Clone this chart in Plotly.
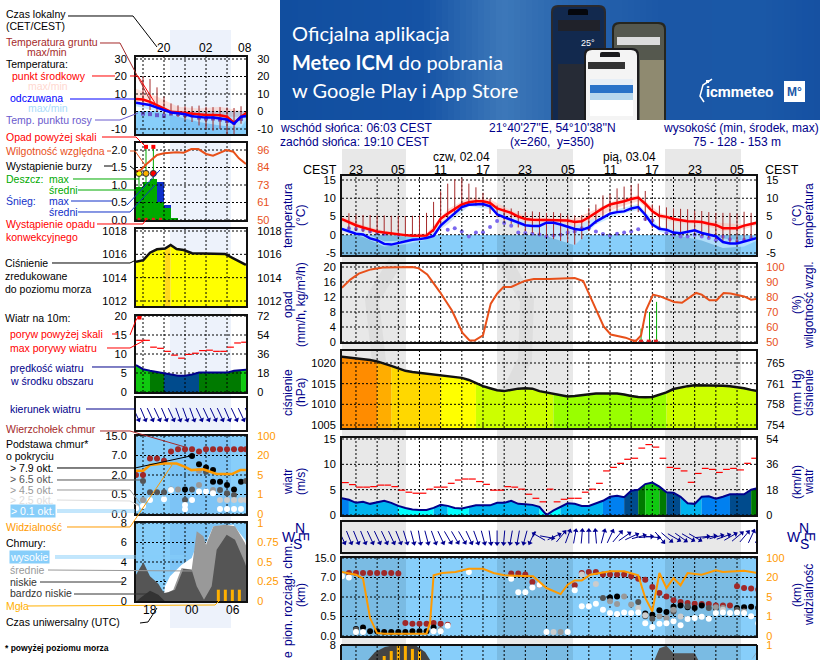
import math

import plotly.graph_objects as go

W, H = 820, 660
BLACK = "#000000"
NAVY = "#00008b"
RED = "#ff0000"
BROWN = "#a52a2a"
HUMID = "#e8501a"
ORANGE = "#ff9a00"
SKY = "#87cefa"
FONT = "Liberation Sans"

# ---- main meteogram, hours counted from the 23:00 tick
HOURS = list(range(-2, 58))
TEMP_MEAN = [4.3, 3.4, 2.6, 2.0, 1.4, 0.9, 0.6, 0.3, 0.1, -0.1, -0.3, -0.3, -0.2, 1.4, 4.4, 5.8, 7.0, 8.3, 8.9, 9.2,
             9.2, 8.7, 7.2, 6.7, 6.0, 5.0, 4.3, 4.1, 4.1, 4.1, 4.0, 3.9, 3.9, 3.5, 3.7, 4.8, 6.1, 7.3, 8.3, 8.7,
             9.2, 9.8, 10.2, 8.5, 6.4, 5.2, 4.9, 4.3, 3.9, 3.7, 3.6, 3.5, 3.0, 2.7, 1.8, 1.7, 1.8, 2.5, 2.9, 3.4]
TEMP_FEEL = [1.6, 0.9, 0.3, 0.1, -1.0, -1.5, -2.5, -2.7, -2.2, -1.9, -1.4, -1.2, -0.9, -0.3, 2.5, 4.2, 5.8, 7.6, 8.2, 8.4,
             8.4, 7.8, 5.6, 4.8, 4.0, 3.2, 2.6, 2.4, 2.4, 3.3, 3.3, 2.8, 2.2, 1.6, 1.3, 2.0, 3.6, 4.8, 5.8, 6.2,
             6.4, 7.2, 7.6, 5.5, 2.8, 1.6, 1.4, 0.6, 0.4, 0.8, 1.2, 0.5, 0.0, -0.4, -2.0, -2.4, -2.4, -1.9, -1.4, -0.8]
DEW_HOURS = [-1, 0, 1, 2, 3, 4, 6, 13, 14, 15, 16, 17, 18, 19, 20, 21, 22, 23, 24, 25, 26, 27, 28, 29, 30, 31, 32, 33, 34,
             35, 36, 37, 38, 39, 40, 41, 42, 43, 44, 45, 46, 47, 48, 49, 50, 51, 52, 53, 54, 55, 56, 57]
DEW_POINT = [1.8, 1.6, 1.4, 0.9, 0.5, 0.2, 0.0, 1.4, 1.8, 0.9, -0.5, 0.6, 0.7, 2.1, 3.8, 3.2, 2.5, 0.6, 0.5, 0.3, 0.1, -0.5,
             -0.2, 0.0, 0.6, 0.9, 1.8, 1.8, 0.9, 0.2, -0.2, 0.3, 0.6, 0.9, 1.5, 4.3, 3.9, 1.8, 0.5, 0.0, -0.5, -0.5, 0.0,
             -0.5, -0.9, -1.5, -0.5, -1.2, -1.8, -1.4, -0.8, -0.5]
SOIL_HOURS = list(range(-1, 57))
SOIL_MAX = [5.9, 5.5, 5.4, 5.4, 5.3, 5.3, 5.2, 5.2, 5.1, 5.2, 5.3, 6.0, 9.0, 11.9, 14.0, 15.2, 15.5, 14.0, 13.0, 11.5, 10.0,
            8.0, 7.5, 7.2, 6.5, 6.3, 6.4, 6.2, 6.0, 6.2, 5.9, 5.4, 5.3, 5.4, 7.3, 8.3, 10.8, 11.2, 12.7, 13.2, 13.6, 14.0,
            12.0, 8.3, 8.0, 7.5, 7.2, 7.1, 7.0, 6.6, 6.5, 6.2, 6.0, 6.0, 6.0, 5.8, 6.3, 6.0]
SOIL_MIN = [1.5, 1.0, 0.8, 0.5, 0.3, 0.1, -0.2, -0.4, -0.5, -0.6, -0.6, -0.4, 0.8, 2.5, 4.0, 5.5, 7.5, 8.0, 8.0, 7.8, 5.7,
            4.8, 3.8, 3.0, 2.0, 1.0, 0.5, 0.0, -0.5, -1.2, -1.7, -2.0, -2.7, -1.2, 1.0, 3.0, 4.8, 6.0, 6.5, 7.0, 8.0, 6.2,
            3.8, 1.8, 1.5, 1.0, 0.5, 0.0, 0.3, 0.5, -0.3, -0.8, -1.2, -2.0, -2.3, -2.0, -1.5, -1.0]
BAND_HOURS = [-2, 1, 4, 7, 10, 13, 16, 19, 22, 25, 28, 31, 34, 37, 40, 43, 46, 49, 52, 55, 57]
PINK_HIGH = [5.0, 2.6, 1.1, 0.2, 0.4, 7.0, 10.2, 9.7, 6.6, 4.6, 4.6, 4.4, 7.0, 9.6, 10.9, 6.0, 4.3, 3.9, 3.2, 2.8, 3.6]
PINK_LOW = [3.6, 1.4, 0.0, -0.6, -1.0, 2.9, 8.0, 7.4, 4.9, 2.8, 1.5, 0.3, 4.6, 7.4, 9.2, 4.4, 3.2, 2.8, 1.0, 1.5, 2.8]
BLUE_HIGH = [2.0, 0.6, -1.8, -1.6, -0.5, 5.0, 8.8, 8.5, 4.6, 3.2, 3.9, 2.4, 4.6, 7.0, 8.4, 2.2, 1.1, 1.0, -1.0, -1.6, -0.4]
BLUE_LOW = [1.0, -0.6, -3.2, -2.6, -1.4, 3.0, 7.8, 7.0, 3.2, 1.0, -1.0, -2.9, 2.8, 5.4, 6.8, 0.8, -0.4, -1.6, -3.6, -3.2, -1.4]

HUMIDITY_HOURS = [-2, -0.8, 0.4, 2.1, 3.8, 6, 8, 8.9, 10.1, 11.9, 13.6, 15.1, 16.1, 16.8, 18, 19.1, 20, 20.9, 22, 23.9, 25.2,
                  27.4, 31, 32.2, 33.5, 35.1, 36.1, 38.2, 39.6, 40.4, 41.1, 42.1, 43.1, 45.1, 46.2, 48.2, 49, 50.1, 51.1,
                  52.1, 53.1, 55, 56, 57]
HUMIDITY = [86.2, 91.6, 95.6, 98.4, 99.6, 100, 100, 99.1, 95.1, 83.3, 71, 56, 51, 51, 54.4, 75.6, 82.2, 86.7, 86.7, 90.7, 92,
            92, 92.7, 90.7, 76.7, 60.4, 55, 52.9, 50.4, 54.4, 71.1, 81.6, 80.4, 76.7, 76.2, 82.7, 81.6, 77.8, 77.8, 82.7,
            82.4, 80.4, 78.2, 78.9]
RAIN_HOURS = [40.4, 41.6, 42.6]
RAIN_MAX = [3.6, 8.0, 10.7]
PRECIP_FLAG_HOURS = [39.5, 40.4, 41.5, 42.5]
PRESSURE = [1021.5, 1021.3, 1021.2, 1021.0, 1020.7, 1020.4, 1019.9, 1019.3, 1018.7, 1018.1, 1017.8, 1017.6, 1017.4, 1017.2,
            1017.0, 1016.8, 1016.6, 1016.4, 1015.9, 1015.1, 1014.4, 1013.9, 1013.4, 1013.2, 1013.5, 1013.8, 1013.9, 1013.8,
            1013.2, 1012.9, 1012.6, 1012.2, 1011.9, 1012.0, 1012.2, 1012.4, 1012.6, 1012.6, 1012.6, 1012.6, 1012.4, 1012.0,
            1011.8, 1011.7, 1011.8, 1012.3, 1012.9, 1013.7, 1014.1, 1014.4, 1014.6, 1014.6, 1014.6, 1014.6, 1014.5, 1014.4,
            1014.2, 1013.9, 1013.5, 1013.2]
WIND = [3.3, 3.0, 2.4, 2.6, 2.2, 2.5, 2.8, 2.4, 1.8, 1.4, 1.1, 1.0, 1.0, 1.4, 2.0, 1.8, 1.4, 1.3, 1.6, 1.9, 1.9, 1.9, 2.4, 2.4,
        2.8, 2.2, 2.1, 2.0, 1.6, 0.0, 0.9, 1.6, 2.3, 2.2, 1.8, 1.8, 2.3, 2.8, 3.6, 3.8, 3.5, 4.8, 5.0, 6.1, 6.4, 5.6, 4.5,
        4.4, 3.6, 2.3, 2.2, 3.6, 3.7, 3.2, 3.6, 4.1, 4.1, 4.1, 5.0, 5.3]
GUST = [6.4, 6.0, 5.5, 5.5, 5.6, 5.9, 5.9, 5.6, 4.9, 4.5, 4.3, 4.3, 5.1, 5.5, 5.5, 6.25, 6.9, 7.1, 7.1, 6.6, 6.05, 4.9, 4.9,
        5.6, 5.5, 5.1, 4.1, 3.3, 2.6, 5.1, 2.6, 3.1, 3.3, 3.3, 4.5, 5.1, 6.25, 8.7, 9.4, 10.2, 11.0, 11.2, 13.2, 13.9, 13.4,
        11.2, 9.4, 9.2, 8.7, 6.45, 8.2, 9.2, 9.0, 8.4, 9.0, 9.2, 8.9, 10.2, 11.2]
WIND_DIR = [155, 158, 158, 158, 155, 155, 155, 155, 158, 163, 165, 170, 165, 160, 155, 150, 150, 150, 155, 160, 165, 172, 180,
            185, 190, 190, 195, 205, 300, 100, 65, 40, 20, 10, 5, 0, 355, 15, 25, 40, 55, 65, 75, 85, 95, 140, 130, 120, 125,
            120, 120, 85, 80, 75, 70, 60, 50, 40, 25, 25]

TOP_H = [-1, 0, 1, 2, 3, 4, 5, 6, 7, 8, 9, 10, 11, 12, 13, 22, 23, 24, 25, 26, 31, 32, 33, 34, 35, 36, 37, 38, 39, 40, 41, 42,
         43, 44, 45, 46, 47, 48, 49, 50, 51, 52, 53, 54, 55, 56, 57]
TOP_P = [3.23, 3.23, 3.23, 3.23, 3.23, 3.23, 3.23, 3.2, 0.67, 0.63, 0.63, 0.63, 0.67, 0.63, 0.58, 3.2, 3.2, 3.15, 2.77, 2.63,
         2.6, 3.23, 3.28, 3.28, 3.15, 3.15, 3.15, 3.15, 3.06, 2.94, 2.89, 2.51, 2.2, 2.03, 1.83, 1.74, 1.69, 1.66, 1.64, 1.64,
         1.57, 1.57, 1.57, 2.55, 2.46, 2.43, 2.38]
OKT79_H = [0, 1, 2, 3, 4, 5, 6, 7, 8, 9, 10, 11, 36, 37, 41, 42, 43, 44, 45, 46, 47, 48, 49, 51, 54, 55, 56, 57]
OKT79_P = [0.36, 0.44, 0.24, 0.24, 0.21, 0.21, 0.21, 0.21, 0.24, 0.24, 0.24, 0.44, 1.98, 2.03, 1.16, 1.09, 1.32, 1.23, 1.5,
           1.56, 1.47, 1.44, 1.57, 1.44, 1.44, 1.47, 1.5, 1.44]
OKT65_H = [0, 35, 40, 41, 42, 45, 47, 50, 54]
OKT65_P = [0.32, 1.95, 1.74, 1.01, 0.89, 1.26, 1.52, 1.44, 1.35]
OKT45_H = [0, 11, 12, 29, 36, 37, 38, 39, 43, 44, 45, 51, 52, 55]
OKT45_P = [0.21, 0.24, 0.32, 0.21, 1.78, 1.64, 2.03, 1.61, 1.01, 0.92, 1.35, 1.47, 1.44, 1.26]
OKT25_H = [-2, 28, 32, 34, 40, 41, 46, 52]
OKT25_P = [3.06, 0.21, 3.15, 2.67, 1.44, 1.06, 1.0, 1.35]
OKT01_H = [-2, -1, 0, 1, 11, 12, 13, 16, 22, 23, 24, 25, 26, 27, 30, 31, 32, 33, 34, 35, 36, 37, 38, 39, 40, 41, 42, 43, 44, 45,
           46, 47, 48, 49, 50, 51, 52, 53, 54, 55, 56, 57]
OKT01_P = [3.06, 3.0, 0.21, 0.21, 0.24, 0.24, 0.53, 3.28, 2.94, 2.24, 2.24, 2.49, 2.63, 0.21, 0.21, 2.34, 1.52, 1.52, 1.66,
           1.35, 1.18, 1.13, 1.21, 1.18, 1.21, 0.65, 0.46, 0.63, 0.65, 0.75, 0.55, 0.87, 0.92, 0.99, 0.89, 1.18, 1.21, 1.18,
           1.21, 1.18, 1.01, 0.65]
VIS_H = [-2, 0, 1, 2, 3, 4, 10, 10.5, 11, 12.2, 14.1, 16, 18, 19.5, 21, 23.4, 25.1, 27, 29, 30, 31, 32, 33.2, 36, 38, 40, 41, 42,
         43, 44, 45, 46, 47, 49, 51, 52, 55, 57]
VIS_P = [3.28, 3.14, 2.94, 0.92, 0.15, 0.12, 0.12, 0.67, 3.11, 3.23, 3.28, 3.45, 3.45, 3.23, 3.11, 3.06, 3.06, 2.46, 2.15, 2.63,
         2.85, 2.85, 3.14, 3.32, 3.32, 3.11, 1.95, 1.26, 3.23, 2.46, 2.97, 2.6, 3.23, 3.14, 3.37, 3.28, 3.35, 3.23]
DOME_H = [1.7, 2.7, 4.1, 5.5, 8.4, 9.8, 10.5]
DOME_U = [6.46, 7.28, 7.8, 8.0, 8.0, 7.28, 6.46]
PEAK_H = [42.3, 43, 44, 45, 46, 48, 48.5]
PEAK_U = [6.46, 7.66, 7.93, 7.15, 7.15, 7.15, 6.46]
EDGE_H = [56, 56.5, 57]
EDGE_U = [6.46, 6.9, 7.5]
FOG_H = [4, 5, 6, 7, 8, 9]
FOG_U = [6.87, 7.38, 7.9, 7.9, 7.6, 7.38]

# ---- small overview column, hours counted from the 20:00 tick
L_HOURS = list(range(-4, 13))
L_TEMP = [7.2, 6.8, 5.5, 3.6, 1.7, -0.2, -0.5, -0.9, -1.3, -1.6, -2.0, -2.0, -2.2, -3.0, -6.5, -3.0, -0.2]
L_FEEL = [5.0, 4.4, 3.7, 2.2, 0.8, -0.6, -1.0, -1.6, -2.7, -3.2, -3.5, -3.5, -3.9, -4.6, -7.0, -3.0, -2.5]
L_DEW_H = [-3, -2, -1, 0, 1, 2, 3, 4, 5, 6, 7, 8, 9, 10, 11]
L_DEW = [-1.2, -1.5, -2.1, -2.5, -1.2, -1.5, -2.1, -2.1, -3.5, -4.0, -4.0, -4.6, -5.4, -6.4, -4.2]
L_SOIL_H = [-3, -2, -1, 0, 1, 2, 3, 4, 5, 6, 7, 8, 9, 10, 11]
L_SOIL_MAX = [20, 18.6, 13.8, 8.5, 4.6, 3.5, 3.0, 3.0, 3.4, 2.7, 2.5, 2.5, 2.3, 2.0, 3.0]
L_SOIL_MIN = [2.7, 0.8, -0.2, -1.2, -2.1, -3.1, -5.0, -6.0, -8.0, -10, -11, -10, -13, -13, -7]
L_BAND_H = [-4, -1, 2, 5, 8, 11, 11.7]
L_PINK_HIGH = [13, 8.5, 2.7, 1.7, 2.7, 0.5, -0.2]
L_PINK_LOW = [5.5, 1.5, -1.5, -2.5, -3, -5, -1]
L_BLUE_HIGH = [5.5, 3, -1, -2.5, -3, -3, -2]
L_BLUE_LOW = [3, 0, -3, -6, -8, -9, -5]
L_HUM_H = [-4, -3.3, -2.4, -1, 0, 1.8, 2.8, 3.9, 4.9, 6, 7, 8.9, 9.9, 10.7, 11.7]
L_HUM = [81.8, 82.9, 87.2, 92.7, 93.8, 94.5, 94.2, 96.6, 96.6, 93.4, 92.3, 96, 94.9, 90.5, 86.8]
L_RAIN_H = [-3.5, -2.5, -1.5, -0.5, 0.5, 1.5]
L_RAIN = [0.95, 1.1, 1.17, 0.52, 0.33, 0.07]
L_SNOW = [0, 0, 0, 0.58, 0.09, 0]
L_RAIN_MAX_H = [-3.57, -2.57, -1.52]
L_RAIN_MAX = [1.4, 2.09, 2.09]
L_STORM_H = [-3.57, -2.57, -1.52]
L_STORM_Y = [1.33, 1.33, 1.33]
L_STORM_C = ["#ffff00", "#ffb000", "#ff0000"]
L_FLAG_H = [-2.57, -1.52]
L_FLAG_Y = [2.09, 2.09]
L_CONV_H = [-3.57, -2.57, -1.52, -0.5]
L_PRESS_H = [-4, -2.95, -2, -1, 0.15, 0.95, 1.8, 2.8, 4, 5.6, 8.7, 9.9, 11.7]
L_PRESS = [1015.37, 1015.5, 1016.14, 1016.43, 1016.5, 1016.8, 1016.45, 1016.37, 1016.09, 1016.06, 1016.03, 1015.66, 1015.09]
L_WIND = [7.1, 6.0, 5.6, 5.3, 4.9, 4.6, 4.3, 4.3, 4.6, 5.1, 5.1, 5.0, 5.0, 5.1, 5.6, 5.8, 5.9]
L_GUST_H = [-3.5, -2.5, -1.5, -0.5, 0.5, 1.5, 2.5, 3.5, 4.5, 5.5, 6.5, 7.5, 8.5, 9.5, 10.5, 11.5]
L_GUST = [13.6, 13.6, 11.8, 11.5, 10.7, 9.7, 8.9, 9.9, 10.2, 10.9, 11.0, 10.7, 10.7, 11.8, 12.9, 13.1]
L_DIR = [155, 157, 155, 155, 157, 155, 160, 160, 160, 155, 155, 155, 155, 157, 155, 155, 155]
L_TOP_H = [-4, -3, -2, -1, 0, 1, 2, 3, 4, 5, 6, 7, 8, 9, 10, 11, 11.7]
L_TOP_P = [2.0, 2.0, 2.85, 2.85, 2.73, 3.2, 3.32, 3.32, 3.32, 3.2, 3.32, 3.32, 3.32, 3.32, 3.32, 3.32, 3.32]
L_79_H = [3, 4, 5, 6, 7, 7, 8, 9, 10, 11]
L_79_P = [1.26, 2.97, 2.55, 2.38, 2.26, 1.66, 1.66, 1.49, 1.26, 1.66]
L_65_H = [-3, -2, -1, 0, 3, 4, 6, 8, 9, 10, 11.7]
L_65_P = [1.69, 1.11, 1.11, 1.11, 0.72, 1.26, 2.17, 1.23, 1.06, 0.97, 1.69]
L_45_H = [-4, -3, 1, 2, 5, 5, 7]
L_45_P = [0.4, 0.72, 1.26, 1.26, 2.22, 1.49, 1.23]
L_25_H = [-4, 8, 9, 10, 11, 11.7]
L_25_P = [0.34, 0.72, 0.72, 0.72, 0.72, 0.72]
L_01_H = [-4, -3, -2, 0, 1, 3, 3, 4, 5, 6, 7, 8, 9, 10, 11]
L_01_P = [0.29, 0.41, 0.72, 0.75, 1.23, 0.24, 0.46, 0.72, 1.15, 1.15, 1.06, 0.26, 0.26, 0.26, 0.26]
L_VIS_H = [-4, -2.95, -2, 0, 1.8, 3, 3.9, 5.6, 7.5, 9.7, 10.9, 11.7]
L_VIS_P = [2.22, 2.22, 2.51, 2.59, 2.59, 2.42, 2.25, 2.29, 2.05, 2.05, 2.25, 2.25]
L_HIGH_H = [-0.1, 0.14, 0.86, 2.52, 3.95, 4.67, 6, 7.05, 9.9, 11.57, 11.71]
L_HIGH_U = [0, 1.5, 2.53, 3.73, 4.41, 5.78, 5.95, 7.66, 7.83, 6.29, 6.0]
L_MID_H = [0, 0.38, 1.33, 2.52, 3.95, 4.67, 5.62, 6, 7.05, 8.71, 10.14, 11.57, 11.71]
L_MID_U = [0, 0.82, 1.16, 3.38, 3.21, 7.15, 6.63, 5.78, 7.66, 7.83, 7.66, 5.95, 5.7]
L_LOW_H = [-4, -2.95, -2, -0.81, 0, 0.62, 1.57, 2.76, 3.95, 4.67, 5.71, 6.81, 7.52, 8.95, 10.14, 11.57, 11.71]
L_LOW_U = [2.7, 3.97, 2.53, 1.78, 0.82, 0.89, 1.16, 3.28, 3.21, 1.5, 0.14, 1.5, 5.26, 6.8, 6.29, 3.9, 3.6]
L_VLOW_H = [-3.9, -3.4, -2, -0.81, 0.1]
L_VLOW_U = [0, 0.3, 1.06, 0.65, 0]
L_FOG_H = [7.76, 8.76, 9.76, 10.76]
L_FOG_U = [1.16, 1.16, 1.16, 1.16]

# tick labels
TIME_TICKS = list(range(0, 55, 6))
TIME_TEXT = ["23", "05", "11", "17", "23", "05", "11", "17", "23", "05"]
L_TOP_TICKS = [0, 6, 11.5]
L_TOP_TEXT = ["20", "02", "08"]
L_BOTTOM_TICKS = [-2, 4, 9.9]
L_BOTTOM_TEXT = ["18", "00", "06"]
BASE_TICKS = [0, 1, 2, 3, 4]
BASE_TEXT = ["0.0", "0.5", "2.0", "7.0", "15.0"]
VIS_TEXT = ["0", "1", "5", "20", "100"]


def px_x(x):
    return x / W


def px_y(y):
    return 1 - y / H


def y_range(top, bottom, v1, p1, v2, p2):
    k = (v1 - v2) / (p1 - p2)
    return [v2 + (bottom - p2) * k, v2 + (top - p2) * k]


fig = go.Figure()
shapes = []
annotations = []
axes = {}
panel_count = 0


def add_panel(x0, x1, top, bottom, xr, yr, lt=None, lx=None, rt=None, rx=None, rr=None, rc=BLACK, gap=(2, 7), bottom_line=True):
    global panel_count
    panel_count += 1
    n = panel_count
    r = n + 20
    axes[f"xaxis{n}"] = dict(domain=[px_x(x0), px_x(x1)], range=xr, anchor=f"y{n}", showgrid=False, zeroline=False,
                             showticklabels=False, ticks="", showline=bottom_line, mirror=bottom_line, linecolor="#111", linewidth=2)
    axes[f"yaxis{n}"] = dict(domain=[px_y(bottom), px_y(top)], range=yr, anchor=f"x{n}", showgrid=False, zeroline=False,
                             showline=True, mirror=True, linecolor="#111", linewidth=2,
                             tickmode="array", tickvals=lt or [], ticktext=lx or [], ticks="outside", ticklen=gap[0],
                             tickcolor="rgba(0,0,0,0)", tickfont=dict(family=FONT, size=11, color=BLACK))
    axes[f"yaxis{r}"] = dict(domain=[px_y(bottom), px_y(top)], range=rr or yr, anchor=f"x{n}", overlaying=f"y{n}", side="right",
                             showgrid=False, zeroline=False, showline=False,
                             tickmode="array", tickvals=rt or [], ticktext=rx or [], ticks="outside", ticklen=gap[1],
                             tickcolor="rgba(0,0,0,0)", tickfont=dict(family=FONT, size=11, color=rc))
    fig.add_trace(go.Scatter(x=[xr[0]], y=[(rr or yr)[0]], mode="markers", marker=dict(opacity=0), xaxis=f"x{n}", yaxis=f"y{r}"))
    return n, r


def xy(n):
    return dict(xaxis=f"x{n}", yaxis=f"y{n}")


def line(n, x, y, color, width=2, shape="linear"):
    fig.add_trace(go.Scatter(x=x, y=y, mode="lines", line=dict(color=color, width=width, shape=shape), **xy(n)))


def dots(n, x, y, color, size=6, symbol="circle"):
    fig.add_trace(go.Scatter(x=x, y=y, mode="markers", marker=dict(color=color, size=size, symbol=symbol, line=dict(width=0)), **xy(n)))


def band(n, x, low, high, color):
    fig.add_trace(go.Scatter(x=x, y=low, mode="lines", line=dict(width=0), **xy(n)))
    fig.add_trace(go.Scatter(x=x, y=high, mode="lines", line=dict(width=0), fill="tonexty", fillcolor=color, **xy(n)))


def grid(n, xs, ys, xr, yr):
    gx, gy = [], []
    for v in xs:
        gx += [v, v, None]
        gy += [yr[0], yr[1], None]
    for v in ys:
        gx += [xr[0], xr[1], None]
        gy += [v, v, None]
    fig.add_trace(go.Scatter(x=gx, y=gy, mode="lines", line=dict(color=BLACK, width=1, dash="2px,2px"), **xy(n)))


def bars_between(n, x, low, high, color, width=1):
    sx, sy = [], []
    for a, b, c in zip(x, low, high):
        sx += [a, a, None]
        sy += [b, c, None]
    fig.add_trace(go.Scatter(x=sx, y=sy, mode="lines", line=dict(color=color, width=width), **xy(n)))


def dashes(n, x, y, color):
    sx, sy = [], []
    for a, b in zip(x, y):
        sx += [a - 0.48, a + 0.48, None]
        sy += [b, b, None]
    fig.add_trace(go.Scatter(x=sx, y=sy, mode="lines", line=dict(color=color, width=1.2), **xy(n)))


def pressure_color(v):
    for limit, c in [(1020.5, "#ff8c00"), (1019.5, "#ffad00"), (1017.05, "#ffd800"), (1015, "#ffff00"), (1012.7, "#ccff00")]:
        if v >= limit:
            return c
    return "#99ff00"


def overview_pressure_color(v):
    return "#ffd81a" if v >= 1016.64 else "#ffff00"


def wind_color(v):
    for limit, c in [(5.7, "#10c810"), (4.95, "#007a00"), (4, "#004b8d"), (3, "#0080f0"), (1.65, "#00b4f0")]:
        if v >= limit:
            return c
    return "#00ffff"


def colored_area(n, x, y, base, pick):
    start = 0
    for i in range(len(x) - 1):
        c = pick((y[i] + y[i + 1]) / 2)
        nxt = pick((y[i + 1] + y[i + 2]) / 2) if i + 2 < len(x) else None
        if nxt != c:
            sx = x[start:i + 2]
            sy = y[start:i + 2]
            fig.add_trace(go.Scatter(x=sx + [sx[-1], sx[0]], y=sy + [base, base], mode="none", fill="toself", fillcolor=c, **xy(n)))
            start = i + 1


def arrows(n, x, angles, px_per_hour):
    lx, ly, hx, hy = [], [], [], []
    for a, d in zip(x, angles):
        dx = math.sin(math.radians(d)) * 6.5 / px_per_hour
        dy = math.cos(math.radians(d)) * 6.5
        lx += [a - dx, a + dx, None]
        ly += [-dy, dy, None]
        hx.append(a + dx)
        hy.append(dy)
    fig.add_trace(go.Scatter(x=lx, y=ly, mode="lines", line=dict(color="#000090", width=1), cliponaxis=False, **xy(n)))
    fig.add_trace(go.Scatter(x=hx, y=hy, mode="markers", cliponaxis=False,
                             marker=dict(symbol="triangle-up", size=5, color="#000090", angle=angles, line=dict(width=0)), **xy(n)))


def label(x, y, text, color=BLACK, anchor="left", size=12, angle=0, family=FONT, bg=None):
    shift = {"left": -1.5, "right": 1.5, "center": 0}[anchor]
    annotations.append(dict(x=px_x(x), y=px_y(y), xref="paper", yref="paper", text=text, showarrow=False, xanchor=anchor,
                            yanchor="middle", borderpad=0, textangle=angle, bgcolor=bg, xshift=shift,
                            font=dict(family=family, size=size, color=color)))


def rect(x0, y0, x1, y1, color, layer="below"):
    shapes.append(dict(type="rect", xref="paper", yref="paper", x0=px_x(x0), x1=px_x(x1), y0=px_y(y0), y1=px_y(y1),
                       fillcolor=color, line=dict(width=0), layer=layer))


def phone(x0, y0, x1, y1, color, r=6):
    a, b, c, d = px_x(x0), px_y(y0), px_x(x1), px_y(y1)
    rx, ry = r / W, r / H
    path = (f"M {a:.5f},{d:.5f} L {a:.5f},{b - ry:.5f} Q {a:.5f},{b:.5f} {a + rx:.5f},{b:.5f} "
            f"L {c - rx:.5f},{b:.5f} Q {c:.5f},{b:.5f} {c:.5f},{b - ry:.5f} L {c:.5f},{d:.5f} Z")
    shapes.append(dict(type="path", xref="paper", yref="paper", path=path, fillcolor=color, line=dict(width=0), layer="below"))


def leader(color, pts, width=1, layer="above"):
    path = "M " + " L ".join(f"{px_x(a):.5f},{px_y(b):.5f}" for a, b in pts)
    shapes.append(dict(type="path", xref="paper", yref="paper", path=path, line=dict(color=color, width=width), layer=layer))


# ---- backgrounds
MX0, MX1, LX0, LX1 = 342, 756, 136, 246
rect(342, 235, 756, 255, SKY)
rect(342, 558, 756, 636, SKY)
rect(342, 645, 756, 660, SKY)
rect(136, 111, 246, 134, SKY)
rect(136, 436, 246, 514, SKY)
rect(136, 523, 246, 601, SKY)
for a, b in [(342, 406), (497, 573), (665, 741)]:
    rect(a, 149, b, 660, "rgba(0,0,0,0.09)")
rect(170, 30, 231, 628, "rgba(0,70,200,0.07)")
# faint logo behind the main panels
leader("rgba(0,0,0,0.04)", [(400, 430), (380, 370), (372, 300), (395, 262)], 14, "below")
leader("rgba(0,0,0,0.04)", [(505, 262), (527, 300), (525, 360), (505, 400)], 14, "below")

# ---- banner
BANNER_X = [280, 420, 500, 560, 660, 760, 820]
BANNER_C = [(17, 78, 159), (21, 83, 165), (61, 120, 185), (42, 102, 174), (27, 87, 166), (26, 88, 167), (21, 80, 162)]
for x in range(280, 820, 6):
    for i in range(len(BANNER_X) - 1):
        if BANNER_X[i] <= x <= BANNER_X[i + 1]:
            f = (x - BANNER_X[i]) / (BANNER_X[i + 1] - BANNER_X[i])
            c = [round(p + (q - p) * f) for p, q in zip(BANNER_C[i], BANNER_C[i + 1])]
            rect(x, 0, x + 6, 120, f"rgb({c[0]},{c[1]},{c[2]})")
            break
phone(551, 5, 606, 120, "#2a2a2e", 7)
phone(553, 7, 604, 120, "#12294e", 6)
phone(568, 9, 588, 15, "#05070c", 2)
rect(558, 20, 600, 31, "#20222a")
rect(558, 64, 600, 120, "#262b36")
phone(612, 22, 666, 120, "#26261f", 7)
phone(614, 24, 664, 120, "#55584e", 6)
rect(617, 37, 660, 45, "#dcdcdc")
rect(640, 60, 664, 120, "#8f8a70")
phone(584, 48, 639, 120, "#1c1c1e", 7)
phone(586, 50, 637, 120, "#f4f4f4", 6)
phone(600, 52, 620, 57, "#1c1c1e", 2)
rect(588, 62, 625, 69, "#333333")
rect(590, 79, 633, 85, "#e6eef6")
rect(590, 85, 633, 93, "#2a73c8")
rect(590, 93, 633, 100, "#b8d8ee")
rect(590, 100, 633, 116, "#ffffff")
rect(784, 81, 805, 102, "#ffffff")
label(292, 33, "Oficjalna aplikacja", "#ffffff", size=20, family="Lato")
label(292, 62, "<b>Meteo ICM</b> do pobrania", "#ffffff", size=20, family="Lato")
label(292, 90, "w Google Play i App Store", "#ffffff", size=20, family="Lato")
label(588, 43, "25°", "#ffffff", "center", size=9)
label(706, 92, "<b>icmmeteo</b>", "#ffffff", size=15, family="Roboto")
label(794.5, 92, "<b>M°</b>", "#1a58a7", anchor="center", size=12)
leader("#ffffff", [(712, 79), (703, 85), (700, 96), (704, 102)], 1.5)
rect(706, 80, 709, 83, "#ffffff", layer="above")

# ---- main panels
HX = [-1.98, 56.69]
PX_MAIN = 7.056
TEMP_T = [15, 10, 5, 0, -5]
n, r = add_panel(MX0, MX1, 176, 255, HX, y_range(176, 255, 15, 180, -5, 253), TEMP_T, [str(v) for v in TEMP_T], TEMP_T, [str(v) for v in TEMP_T])
yr = axes[f"yaxis{n}"]["range"]
band(n, BAND_HOURS, PINK_LOW, PINK_HIGH, "rgba(255,190,178,0.55)")
band(n, BAND_HOURS, BLUE_LOW, BLUE_HIGH, "rgba(190,230,255,0.8)")
dots(n, DEW_HOURS, DEW_POINT, "#7b68ee", 4)
grid(n, list(range(0, 55, 3)), TEMP_T, HX, yr)
bars_between(n, SOIL_HOURS, SOIL_MIN, SOIL_MAX, BROWN)
line(n, HOURS, TEMP_MEAN, RED, 2.5)
line(n, HOURS, TEMP_FEEL, "#0000ff", 2.5)

OPAD_T = [20, 16, 12, 8, 4, 0]
HUM_T = [100, 90, 80, 70, 60, 50]
hum_range = y_range(264, 342, 100, 267, 50, 342)
n, r = add_panel(MX0, MX1, 264, 342, HX, y_range(264, 342, 20, 267, 0, 342), OPAD_T, [str(v) for v in OPAD_T], HUM_T, [str(v) for v in HUM_T], hum_range, HUMID)
yr = axes[f"yaxis{n}"]["range"]
grid(n, list(range(0, 55, 3)), OPAD_T, HX, yr)
bars_between(n, RAIN_HOURS, [0, 0, 0], RAIN_MAX, "#00aa00")
dots(n, PRECIP_FLAG_HOURS, [0.1, 0.1, 0.1, 0.1], "#e02020", 4, "square")
fig.add_trace(go.Scatter(x=HUMIDITY_HOURS, y=HUMIDITY, mode="lines", line=dict(color=HUMID, width=2), xaxis=f"x{n}", yaxis=f"y{r}"))

PRESS_T = [1020, 1015, 1010, 1005]
n, r = add_panel(MX0, MX1, 351, 428, HX, y_range(351, 428, 1020, 363, 1005, 425), PRESS_T, [str(v) for v in PRESS_T], PRESS_T, ["765", "761", "758", "754"])
yr = axes[f"yaxis{n}"]["range"]
colored_area(n, HOURS, PRESSURE, yr[0], pressure_color)
grid(n, list(range(0, 55, 3)), PRESS_T, HX, yr)
line(n, HOURS, PRESSURE, "#111111", 2.5)

WIND_T = [15, 10, 5, 0]
n, r = add_panel(MX0, MX1, 438, 515, HX, y_range(438, 515, 15, 439, 0, 515), WIND_T, [str(v) for v in WIND_T], WIND_T, ["54", "36", "18", "0"])
yr = axes[f"yaxis{n}"]["range"]
colored_area(n, HOURS, WIND, 0, wind_color)
grid(n, list(range(0, 55, 3)), WIND_T, HX, yr)
line(n, HOURS, WIND, "#00008b", 2)
dashes(n, [-1.5 + i for i in range(len(GUST))], GUST, RED)

n, r = add_panel(MX0, MX1, 522, 552, HX, [-15, 15])
arrows(n, HOURS, WIND_DIR, PX_MAIN)

n, r = add_panel(MX0, MX1, 558, 636, HX, [0, 4], BASE_TICKS, BASE_TEXT, BASE_TICKS, VIS_TEXT, None, ORANGE)
grid(n, list(range(0, 55, 3)), BASE_TICKS, HX, [0, 4])
dots(n, TOP_H, TOP_P, "#a02828")
dots(n, OKT79_H, OKT79_P, "#000000")
dots(n, OKT65_H, OKT65_P, "#555555")
dots(n, OKT45_H, OKT45_P, "#999999")
dots(n, OKT25_H, OKT25_P, "#cccccc")
dots(n, OKT01_H, OKT01_P, "#ffffff")
line(n, VIS_H, VIS_P, ORANGE, 2)

cover_range = y_range(645, 660, 8, 645, 0, 723)
n, r = add_panel(MX0, MX1, 645, 660, HX, cover_range, [8], ["8"], [8], ["1"], None, ORANGE, bottom_line=False)
leader("#111", [(341, 645), (757, 645)], 2)
for hx, uy, col in [(DOME_H, DOME_U, "#444444"), (PEAK_H, PEAK_U, "#555555"), (EDGE_H, EDGE_U, "#888888")]:
    fig.add_trace(go.Scatter(x=hx, y=uy, mode="none", fill="toself", fillcolor=col, **xy(n)))
bars_between(n, FOG_H, [0] * len(FOG_H), FOG_U, "#ffb000", 3)
grid(n, list(range(0, 55, 3)), [], HX, cover_range)

# ---- overview panels
LHX = [-4, 11.71]
PX_LEFT = 7.0
LGX = [-3, 0, 3, 6, 9]
T = [30, 20, 10, 0, -10]
n, r = add_panel(LX0, LX1, 57, 134, LHX, y_range(57, 134, 30, 59, -10, 129), T, [str(v) for v in T], T, [str(v) for v in T], gap=(5, 8))
yr = axes[f"yaxis{n}"]["range"]
band(n, L_BAND_H, L_PINK_LOW, L_PINK_HIGH, "rgba(255,190,178,0.45)")
band(n, L_BAND_H, L_BLUE_LOW, L_BLUE_HIGH, "rgba(190,230,255,0.8)")
dots(n, L_DEW_H, L_DEW, "#6a5acd", 4, "square")
grid(n, LGX, T, LHX, yr)
bars_between(n, L_SOIL_H, L_SOIL_MIN, L_SOIL_MAX, BROWN)
line(n, L_HOURS, L_TEMP, RED, 2.5)
line(n, L_HOURS, L_FEEL, "#0000ff", 2.5)

T = [2.0, 1.5, 1.0, 0.5, 0.0]
HT = [96, 84.5, 73, 61.5, 50]
n, r = add_panel(LX0, LX1, 143, 220, LHX, y_range(143, 220, 2, 150, 0, 220), T, [f"{v:.1f}" for v in T], HT, ["96", "84", "73", "61", "50"],
                 y_range(143, 220, 96, 150, 50, 220), HUMID, gap=(5, 8))
yr = axes[f"yaxis{n}"]["range"]
fig.add_trace(go.Bar(x=L_RAIN_H, y=L_RAIN, width=1, marker=dict(color="#00aa00", line=dict(width=0)), **xy(n)))
fig.add_trace(go.Bar(x=L_RAIN_H, y=L_SNOW, width=1, marker=dict(color="#1030c8", line=dict(width=0)), **xy(n)))
grid(n, LGX, T, LHX, yr)
bars_between(n, L_RAIN_MAX_H, [0, 0, 0], L_RAIN_MAX, "#00aa00")
dots(n, L_CONV_H, [0.02, 0.02, 0.02, 0.02], "#e02020", 3, "square")
dots(n, L_FLAG_H, L_FLAG_Y, RED, 4, "square")
fig.add_trace(go.Scatter(x=L_STORM_H, y=L_STORM_Y, mode="markers", marker=dict(size=6, color=L_STORM_C, line=dict(color="#333", width=1)), **xy(n)))
fig.add_trace(go.Scatter(x=L_HUM_H, y=L_HUM, mode="lines", line=dict(color=HUMID, width=2), xaxis=f"x{n}", yaxis=f"y{r}"))

T = [1018, 1016, 1014, 1012]
n, r = add_panel(LX0, LX1, 229, 306, LHX, y_range(229, 306, 1018, 231, 1012, 301), T, [str(v) for v in T], T, [str(v) for v in T], gap=(5, 8))
yr = axes[f"yaxis{n}"]["range"]
colored_area(n, L_PRESS_H, L_PRESS, yr[0], overview_pressure_color)
grid(n, LGX, T, LHX, yr)
line(n, L_PRESS_H, L_PRESS, "#111111", 2.5)

T = [20, 15, 10, 5, 0]
n, r = add_panel(LX0, LX1, 316, 392, LHX, y_range(316, 392, 20, 316, 0, 392), T, [str(v) for v in T], T, ["72", "54", "36", "18", "0"], gap=(5, 8))
yr = axes[f"yaxis{n}"]["range"]
colored_area(n, L_HOURS, L_WIND, 0, wind_color)
grid(n, LGX, T, LHX, yr)
line(n, L_HOURS, L_WIND, "#00008b", 2)
dashes(n, L_GUST_H, L_GUST, RED)
dots(n, [-3.5], [19.6], RED, 4, "square")

n, r = add_panel(LX0, LX1, 398, 430, LHX, [-16, 16])
arrows(n, L_HOURS, L_DIR, PX_LEFT)

n, r = add_panel(LX0, LX1, 436, 514, LHX, [0, 4], BASE_TICKS, BASE_TEXT, BASE_TICKS, VIS_TEXT, None, ORANGE, gap=(5, 8))
grid(n, LGX, BASE_TICKS, LHX, [0, 4])
dots(n, L_TOP_H, L_TOP_P, "#a02828")
dots(n, L_79_H, L_79_P, "#000000")
dots(n, L_65_H, L_65_P, "#555555")
dots(n, L_45_H, L_45_P, "#999999")
dots(n, L_25_H, L_25_P, "#cccccc")
dots(n, L_01_H, L_01_P, "#ffffff")
line(n, L_VIS_H, L_VIS_P, ORANGE, 2.5)

T = [8, 6, 4, 2, 0]
n, r = add_panel(LX0, LX1, 523, 601, LHX, [0, 8], T, [str(v) for v in T], T, ["1", "0.75", "0.5", "0.25", "0"], None, ORANGE, gap=(5, 8))
grid(n, LGX, T, LHX, [0, 8])
for hx, uy, col in [(L_HIGH_H, L_HIGH_U, "#ffffff"), (L_MID_H, L_MID_U, "#999999"), (L_LOW_H, L_LOW_U, "#555555"), (L_VLOW_H, L_VLOW_U, "#333333")]:
    fig.add_trace(go.Scatter(x=hx + [hx[-1], hx[0]], y=uy + [0, 0], mode="none", fill="toself", fillcolor=col, **xy(n)))
bars_between(n, L_FOG_H, [0] * len(L_FOG_H), L_FOG_U, "#ffb000", 3)

# ---- time labels (main panels: hours, overview: hours)
for v, t in zip(TIME_TICKS, TIME_TEXT):
    label(356 + v * PX_MAIN, 170, t, anchor="center", size=12.5)
label(336, 170, "CEST", anchor="right", size=12.5)
label(765, 170, "CEST", size=12.5)
label(461, 157, "czw, 02.04", anchor="center", size=12)
label(629, 157, "pią, 03.04", anchor="center", size=12)
for v, t in zip(L_TOP_TICKS, L_TOP_TEXT):
    label(164 + v * PX_LEFT, 48, t, anchor="center", size=12)
for v, t in zip(L_BOTTOM_TICKS, L_BOTTOM_TEXT):
    label(164 + v * PX_LEFT, 610, t, anchor="center", size=12)

# ---- header
label(280, 128, "wschód słońca: 06:03 CEST", NAVY)
label(280, 142, "zachód słońca: 19:10 CEST", NAVY)
label(552, 128, "21°40'27''E, 54°10'38''N", NAVY, "center")
label(552, 142, "(x=260,\u00a0 y=350)", NAVY, "center")
label(818, 128, "wysokość (min, środek, max)", NAVY, "right")
label(737, 142, "75 - 128 - 153 m", NAVY, "center")

# ---- axis titles on the main panels
for y, a, b, c, d in [(216, "temperatura", "(°C)", "(°C)", "temperatura"),
                      (305, "opad", "(mm/h, kg/m³/h)", "(%)", "wilgotność wzgl."),
                      (393, "ciśnienie", "(hPa)", "(mm Hg)", "ciśnienie"),
                      (482, "wiatr", "(m/s)", "(km/h)", "wiatr"),
                      (595, "pion. rozciągł. chm.", "(km)", "(km)", "widzialność")]:
    label(288, y, a, NAVY, "center", angle=-90)
    label(301, y, b, NAVY, "center", angle=-90)
    label(797, y, c, NAVY, "center", angle=-90)
    label(809, y, d, NAVY, "center", angle=-90)
label(288, 655, "e", NAVY, "center", angle=-90)
for wx, nx, ex, sx in [(289, 300, 304, 297), (794, 804, 810, 804)]:
    label(wx, 537, "W", NAVY, "center", 14)
    label(nx, 528, "N", NAVY, "center", 14)
    label(ex, 536, "E", NAVY, "center", 14, angle=90)
    label(sx, 544, "S", NAVY, "center", 14)

# ---- legend column
for x, y, t, c in [
    (6, 14, "Czas lokalny", BLACK), (6, 26, "(CET/CEST)", BLACK),
    (6, 42, "Temperatura gruntu", BROWN), (27, 52, "max/min", BROWN),
    (6, 64, "Temperatura:", BLACK), (12, 76, "punkt środkowy", RED), (28, 86, "max/min", "#ffd8d0"),
    (10, 98, "odczuwana", "#0000ff"), (28, 108, "max/min", "#a8dcfa"), (6, 120, "Temp. punktu rosy", "#6a5acd"),
    (6, 137, "Opad powyżej skali", RED), (6, 151, "Wilgotność względna", HUMID), (6, 166, "Wystąpienie burzy", BLACK),
    (6, 179, "Deszcz:", "#00aa00"), (49, 179, "max", "#00aa00"), (49, 190, "średni", "#00aa00"),
    (6, 201, "Śnieg:", "#1030c8"), (49, 201, "max", "#1030c8"), (49, 212, "średni", "#1030c8"),
    (6, 224, "Wystąpienie opadu", RED), (6, 237, "konwekcyjnego", RED),
    (5, 263, "Ciśnienie", BLACK), (5, 276, "zredukowane", BLACK), (5, 289, "do poziomu morza", BLACK),
    (5, 318, "Wiatr na 10m:", BLACK), (10, 334, "poryw powyżej skali", RED), (10, 348, "max porywy wiatru", RED),
    (10, 368, "prędkość wiatru", NAVY), (10, 381, "w środku obszaru", NAVY), (10, 409, "kierunek wiatru", NAVY),
    (6, 429, "Wierzchołek chmur", BROWN), (6, 444, "Podstawa chmur*", BLACK), (6, 456, "o pokryciu", BLACK),
    (10, 468, "> 7.9 okt.", BLACK), (10, 479, "> 6.5 okt.", "#555555"), (10, 490, "> 4.5 okt.", "#999999"),
    (10, 500, "> 2.5 okt.", "#dddddd"),
    (6, 527, "Widzialność", ORANGE), (6, 543, "Chmury:", BLACK),
    (10, 570, "średnie", "#999999"), (10, 582, "niskie", "#333333"), (10, 593, "bardzo niskie", "#333333"),
    (6, 606, "Mgła", "#ffb000"), (6, 622, "Czas uniwersalny (UTC)", BLACK),
]:
    label(x, y, t, c, size=10.5)
label(11, 511, "> 0.1 okt.", "#ffffff", bg=SKY, size=10.5)
label(10, 557, "wysokie", "#ffffff", bg=SKY, size=10.5)
label(5, 648, "<b>* powyżej poziomu morza</b>", BLACK, size=8.5)

for c, pts in [
    (BLACK, [(68, 16), (133, 16), (157, 47)]),
    (BROWN, [(100, 43), (120, 43), (150, 100)]),
    (RED, [(92, 76), (115, 76)]), (RED, [(130, 76), (138, 76), (155, 103)]),
    ("#0000ff", [(70, 99), (135, 99)]),
    ("#6a5acd", [(95, 120), (120, 120), (138, 113)]),
    (RED, [(102, 137), (136, 137), (145, 146)]),
    (HUMID, [(107, 151), (111, 151)]), (HUMID, [(130, 151), (135, 151), (145, 165)]),
    (BLACK, [(104, 166), (113, 166)]), (BLACK, [(130, 166), (135, 170), (138, 172)]),
    ("#00aa00", [(73, 179), (139, 179)]), ("#00aa00", [(78, 190), (150, 190)]),
    ("#1030c8", [(71, 201), (113, 201)]), ("#1030c8", [(127, 205), (160, 170)]),
    ("#1030c8", [(78, 212), (130, 212), (155, 185)]),
    (RED, [(97, 224), (143, 224), (147, 218)]),
    (BLACK, [(52, 263), (130, 263), (136, 260)]),
    (RED, [(112, 334), (118, 334)]), (RED, [(130, 335), (136, 320), (139, 316)]),
    (RED, [(107, 348), (130, 348), (145, 340)]),
    (NAVY, [(92, 367), (135, 367)]),
    (NAVY, [(86, 409), (135, 409)]),
    (BROWN, [(100, 431), (130, 431), (185, 447)]),
    (BLACK, [(57, 468), (135, 468), (195, 455)]),
    ("#555555", [(57, 480), (143, 480)]),
    ("#999999", [(57, 490), (130, 490), (140, 503)]),
    ("#dddddd", [(57, 500), (130, 501), (137, 505)]),
    (SKY, [(57, 510), (135, 510)]), (SKY, [(57, 512), (135, 512)]),
    (ORANGE, [(67, 527), (130, 527), (172, 465)]),
    (SKY, [(55, 556), (186, 556)]), (SKY, [(55, 558), (186, 558)]),
    ("#999999", [(48, 570), (192, 571)]),
    ("#333333", [(40, 582), (123, 582)]),
    ("#333333", [(74, 594), (150, 594)]),
    ("#ffb000", [(28, 606), (215, 605), (220, 600)]),
    (BLACK, [(140, 623), (148, 622), (157, 608)]),
]:
    leader(c, pts)

layout = dict(width=W, height=H, margin=dict(l=0, r=0, t=0, b=0, autoexpand=False), autosize=False, showlegend=False, barmode="stack",
              paper_bgcolor="#ffffff", plot_bgcolor="rgba(0,0,0,0)", shapes=shapes, annotations=annotations, hovermode=False)
layout.update(axes)
fig.update_layout(**layout)
fig.write_html("out.html", config=dict(displayModeBar=False),
               post_script="document.body.style.margin='0';document.body.style.overflow='hidden';")
